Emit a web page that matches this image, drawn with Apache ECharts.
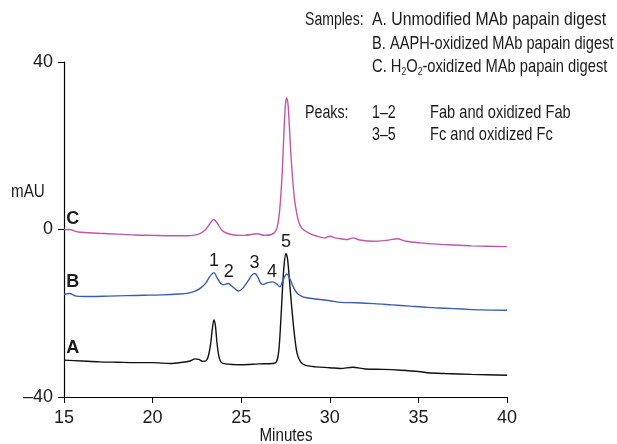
<!DOCTYPE html>
<html>
<head>
<meta charset="utf-8">
<script src="https://cdn.jsdelivr.net/npm/echarts@6/dist/echarts.min.js"></script>
<style>html,body{margin:0;padding:0;background:#fff}#c{width:617px;height:444px}</style>
</head>
<body>
<div id="c"></div>
<script>
// Trace A: Unmodified MAb papain digest [minutes, mAU]
const traceA = [[15,-31.2],[16,-31.4],[17,-31.6],[18,-31.7],[19,-31.8],[20,-31.8],[21,-32.0],[21.7,-31.7],[22.1,-31.4],[22.4,-30.9],[22.6,-31.0],[22.85,-31.5],[23.05,-31.2],[23.17,-29.8],[23.27,-27.5],[23.35,-24.5],[23.46,-21.6],[23.54,-22.8],[23.62,-26.5],[23.72,-29.8],[23.85,-31.6],[24.1,-32.1],[25,-32.3],[26,-32.1],[26.8,-32.0],[27.0,-31.5],[27.12,-29],[27.22,-23],[27.32,-15],[27.42,-8.5],[27.53,-5.7],[27.62,-7.2],[27.72,-12],[27.85,-18.5],[28.0,-25],[28.15,-29.5],[28.35,-31.6],[28.6,-32.4],[29.2,-32.8],[30,-33.0],[30.6,-33.2],[31.3,-32.9],[32,-33.3],[33,-33.4],[34,-33.6],[35,-33.9],[35.5,-34.2],[36.5,-34.4],[38,-34.6],[40,-34.8]];
// Trace B: AAPH-oxidized MAb papain digest
const traceB = [[15,-15.5],[15.3,-15.3],[15.7,-15.9],[16.5,-16.0],[17.5,-15.9],[18.5,-15.8],[19.5,-15.7],[20.5,-15.6],[21.5,-15.4],[22.0,-15.2],[22.4,-14.7],[22.7,-14.0],[23.0,-12.8],[23.2,-11.4],[23.46,-10.3],[23.65,-11.6],[23.85,-12.9],[24.0,-13.2],[24.27,-12.9],[24.5,-13.6],[24.84,-14.7],[25.1,-14.0],[25.4,-12.2],[25.6,-10.9],[25.78,-10.5],[25.95,-11.5],[26.1,-12.8],[26.25,-13.1],[26.5,-12.7],[26.78,-12.5],[27.0,-13.0],[27.19,-13.7],[27.35,-12.2],[27.57,-10.6],[27.75,-11.8],[27.95,-13.8],[28.13,-15.1],[28.4,-15.9],[28.7,-16.3],[29.2,-16.6],[30,-17.0],[30.6,-17.4],[31.5,-17.5],[32.5,-17.7],[33.5,-18.0],[34.5,-18.3],[35.5,-18.6],[36.5,-18.8],[37.5,-19.0],[38.5,-19.2],[40,-19.3]];
// Trace C: H2O2-oxidized MAb papain digest
const traceC = [[15,-0.1],[15.3,0],[15.8,-0.6],[17,-0.9],[18,-1.1],[19,-1.3],[20,-1.4],[21,-1.5],[22,-1.5],[22.6,-1.1],[22.95,-0.2],[23.2,1.2],[23.46,2.4],[23.65,1.5],[23.9,-0.1],[24.2,-0.9],[24.6,-1.3],[25.2,-1.4],[25.9,-1.0],[26.3,-1.4],[26.7,-1.2],[26.95,-0.4],[27.08,1.5],[27.2,6],[27.32,14],[27.42,24],[27.5,30],[27.57,31.4],[27.65,29.5],[27.75,22],[27.85,15],[28.0,7.5],[28.15,3.5],[28.3,1.2],[28.5,0],[28.8,-0.8],[29.2,-1.5],[29.7,-2.0],[30.0,-1.6],[30.3,-2.0],[30.6,-2.2],[31.0,-2.4],[31.3,-2.0],[31.7,-2.5],[32.4,-2.8],[33.2,-2.6],[33.8,-2.2],[34.3,-2.8],[35.1,-3.2],[36,-3.5],[37,-3.7],[38,-3.9],[40,-4.1]];
// Peak number labels [minutes, mAU, text]
const peakLabels = [[23.46,-7.6,'1'],[24.3,-10.2,'2'],[25.75,-8.0,'3'],[26.74,-10.2,'4'],[27.53,-3.0,'5']];
// Trace letters [minutes, mAU, text]
const traceLetters = [[15.5,2.4,'C'],[15.5,-12.6,'B'],[15.5,-28.4,'A']];
const xTicks = {min:15, max:40, interval:5};
const yTicks = {min:-40, max:40, interval:40};

const FONT = '"Liberation Sans", Arial, sans-serif';
const FS = 18;
const HFS = 19;
const pink = '#c554a8', blue = '#3a5db2', black = '#111';

const chart = echarts.init(document.getElementById('c'), null, {renderer:'canvas'});
const lineSeries = (data, color) => ({type:'line', data, showSymbol:false, smooth:0.3, lineStyle:{color, width:1.4}, itemStyle:{color}, silent:true, z:2});
const labelSeries = (arr, bold) => ({type:'scatter', symbolSize:0, silent:true, z:3,
  itemStyle:{opacity:1},
  data: arr.map(d => ({value:[d[0], d[1]], name:d[2]})),
  label:{show:true, position:'inside', formatter: p => p.name, color:'#1a1a1a', fontFamily:FONT, fontSize: FS, fontWeight: bold ? 'bold' : 'normal'}});

const txt = (x, y, text, sx, extra) => ({type:'text', x, y, scaleX:sx, style:Object.assign({text, x:0, y:0, font: HFS + 'px ' + FONT, fill:'#1a1a1a', verticalAlign:'middle', align:'left'}, extra||{})});

chart.setOption({
  animation:false,
  grid:{left:64, right:110, top:62, bottom:47, containLabel:false, outerBoundsMode:'none'},
  xAxis:{type:'value', min:xTicks.min, max:xTicks.max, interval:xTicks.interval,
    axisLine:{onZero:false, lineStyle:{color:'#000', width:1.2}}, axisTick:{length:6, lineStyle:{color:'#000'}},
    axisLabel:{fontFamily:FONT, fontSize:FS, color:'#1a1a1a', margin:12}, splitLine:{show:false}},
  yAxis:{type:'value', min:yTicks.min, max:yTicks.max, interval:yTicks.interval,
    axisLine:{show:true, onZero:false, lineStyle:{color:'#000', width:1.2}}, axisTick:{show:true, length:6, lineStyle:{color:'#000'}},
    axisLabel:{fontFamily:FONT, fontSize:FS, color:'#1a1a1a', margin:11, formatter: v => v < 0 ? '\u2013' + Math.abs(v) : String(v)},
    splitLine:{show:false}},
  series:[lineSeries(traceA, black), lineSeries(traceB, blue), lineSeries(traceC, pink), labelSeries(peakLabels,false), labelSeries(traceLetters,true)],
  graphic:[
    txt(305, 20, 'Samples:', 0.74),
    txt(372, 20, 'A. Unmodified MAb papain digest', 0.83),
    txt(372, 44, 'B. AAPH-oxidized MAb papain digest', 0.77),
    txt(372, 67, 'C. H{sub|2}O{sub|2}-oxidized MAb papain digest', 0.775, {rich:{sub:{fontSize:11, fontFamily:FONT, fill:'#1a1a1a', padding:[9,0,0,0]}}}),
    txt(305, 113, 'Peaks:', 0.75),
    txt(372, 113, '1\u20132', 0.75),
    txt(430, 113, 'Fab and oxidized Fab', 0.77),
    txt(372, 135, '3\u20135', 0.75),
    txt(430, 135, 'Fc and oxidized Fc', 0.77),
    txt(11, 192, 'mAU', 0.8),
    txt(286, 436, 'Minutes', 0.8, {align:'center'})
  ]
});
</script>
</body>
</html>
